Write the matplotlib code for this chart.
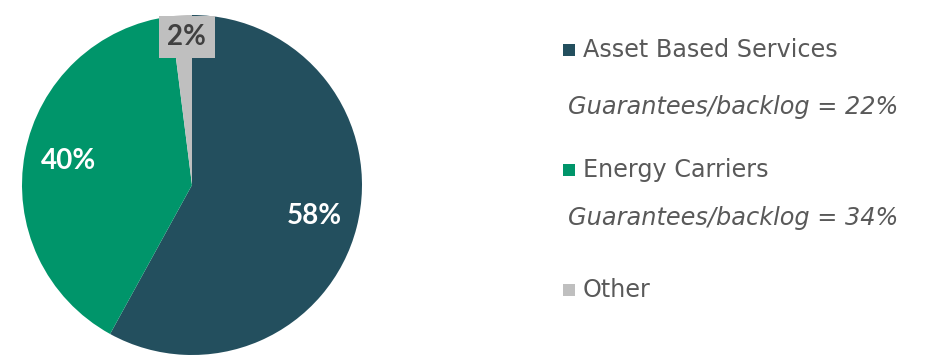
import matplotlib.pyplot as plt
from matplotlib.patches import Rectangle

# segment shares, in drawing order (clockwise from 12 o'clock)
segments = ["Asset Based Services", "Energy Carriers", "Other"]
shares = [58, 40, 2]
colors = ["#234F5E", "#00956A", "#BFBFBF"]

# ratio shown under each segment name in the key (None = no line)
guarantee_ratio = [22, 34, None]

plt.rcParams["font.family"] = ["Lato", "DejaVu Sans"]

fig = plt.figure(figsize=(9.33, 3.55), dpi=100)
W, H = 933, 355

# pie axes: centre (192, 185) px, radius 170 px
ax = fig.add_axes([22 / W, 0 / H, 340 / W, 340 / H])
wedges, texts, autotexts = ax.pie(
    shares, colors=colors, startangle=90, counterclock=False,
    radius=1.0, autopct="%d%%", pctdistance=0.74,
    wedgeprops=dict(linewidth=0),
    textprops=dict(color="white", fontsize=20, weight="bold"),
)
ax.set_xlim(-1, 1)
ax.set_ylim(-1, 1)
ax.set_aspect("equal")
ax.axis("off")

# small slice: label sits in a callout box near the rim
small = autotexts[2]
small.set_position((-0.03, 0.87))
small.set_color("#404040")
small.set_bbox(dict(boxstyle="square,pad=0.3", facecolor="#BFBFBF", edgecolor="none"))

# key on the right
key_font = ["DejaVu Sans"]
text_color = "#595959"
rows_y = [50, 170, 290]
sub_y = [107, 218]
for i, name in enumerate(segments):
    y = 1 - rows_y[i] / H
    fig.patches.append(Rectangle((563 / W, y - 6 / H), 12 / W, 12 / H,
                                 transform=fig.transFigure, facecolor=colors[i],
                                 edgecolor="none"))
    fig.text(583 / W, y, name, fontsize=17.2, family=key_font, color=text_color,
             va="center", ha="left")
    if guarantee_ratio[i] is not None:
        fig.text(568 / W, 1 - sub_y[i] / H, f"Guarantees/backlog = {guarantee_ratio[i]}%",
                 fontsize=17.3, family=key_font, style="italic", color=text_color,
                 va="center", ha="left")

fig.savefig("out.png", dpi=100)
